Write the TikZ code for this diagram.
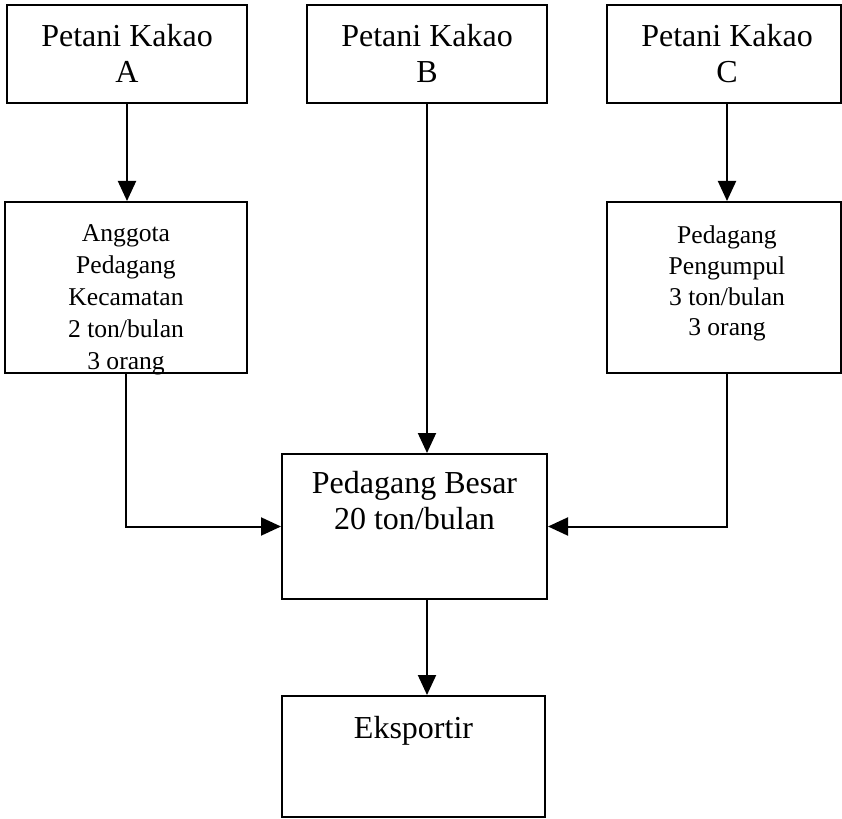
\documentclass[tikz,border=0pt]{standalone}
\usepackage{fontspec}
\setmainfont{Liberation Serif}
\usetikzlibrary{arrows.meta}

\begin{document}
\begin{tikzpicture}[x=1pt,y=-1pt,
  box/.style={draw, line width=2pt, inner sep=0pt, rectangle},
  txt/.style={anchor=north, inner sep=0pt, align=center},
  bigtxt/.style={txt, font=\fontsize{32}{36}\selectfont},
  smalltxt/.style={txt, font=\fontsize{25.6}{32}\selectfont},
  arr/.style={line width=2pt, -{Triangle[length=20pt,width=18pt]}}]

  \useasboundingbox (0,0) rectangle (842,818);

  % row of cocoa farmers
  \node[box, minimum width=240pt, minimum height=98pt] (pa) at (127,54) {};
  \node[box, minimum width=240pt, minimum height=98pt] (pb) at (427,54) {};
  \node[box, minimum width=234pt, minimum height=98pt] (pc) at (724,54) {};

  % intermediate traders
  \node[box, minimum width=242pt, minimum height=171pt] (ang) at (126,287.5) {};
  \node[box, minimum width=234pt, minimum height=171pt] (pen) at (724,287.5) {};

  % wholesaler and exporter
  \node[box, minimum width=265pt, minimum height=145pt] (bes) at (414.5,526.5) {};
  \node[box, minimum width=263pt, minimum height=121pt] (eks) at (413.5,756.5) {};

  % texts (shifts are in page points: negative moves down)
  \node[bigtxt] (tpa) at ([yshift=-20pt]pa.north) {Petani Kakao\\A};
  \node[bigtxt] (tpb) at ([yshift=-20pt]pb.north) {Petani Kakao\\B};
  \node[bigtxt] (tpc) at ([xshift=3pt,yshift=-20pt]pc.north) {Petani Kakao\\C};
  \node[smalltxt] (tang) at ([yshift=-23pt]ang.north)
    {Anggota\\Pedagang\\Kecamatan\\2 ton/bulan\\3 orang};
  \node[smalltxt, font=\fontsize{25.6}{30.6}\selectfont] (tpen) at ([xshift=3pt,yshift=-25pt]pen.north)
    {Pedagang\\Pengumpul\\3 ton/bulan\\3 orang};
  \node[bigtxt] (tbes) at ([yshift=-18pt]bes.north) {Pedagang Besar\\20 ton/bulan};
  \node[bigtxt] (teks) at ([yshift=-21pt]eks.north) {Eksportir};

  % flows
  \draw[arr] (pa.south) -- (pa.south |- ang.north);
  \draw[arr] ([xshift=3pt]pc.south) -- ([xshift=3pt]pc.south |- pen.north);
  \draw[arr] (pb.south) -- (pb.south |- bes.north);
  \draw[arr] (ang.south) |- (bes.west);
  \draw[arr] ([xshift=3pt]pen.south) |- (bes.east);
  \draw[arr] (pb.south |- bes.south) -- (pb.south |- eks.north);
\end{tikzpicture}
\end{document}
